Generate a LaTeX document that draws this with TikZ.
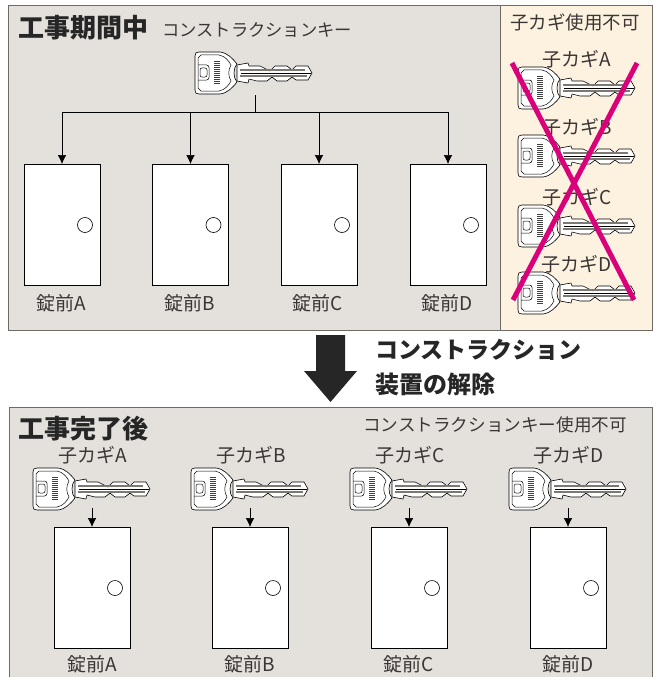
\documentclass[tikz,border=0pt]{standalone}
\usepackage{fontspec}
\setmainfont{Noto Sans CJK JP}
\definecolor{lkText}{HTML}{3A3635}
\definecolor{lkPanel}{HTML}{E4E0DC}
\definecolor{lkCream}{HTML}{FDF1DF}
\definecolor{lkEdge}{HTML}{6E6A64}
\definecolor{lkCross}{HTML}{D9007A}
\definecolor{lkGroove}{HTML}{7C7975}
\usetikzlibrary{calc,positioning,arrows.meta}
\tikzset{
  panelbox/.style={draw=lkEdge, line width=0.8pt},
  doorbox/.style={draw=black, fill=white, line width=0.6pt, minimum width=76pt, minimum height=121pt, inner sep=0pt, outer sep=0pt},
  knobmark/.style={draw=black, fill=white, line width=0.6pt, circle, minimum size=15pt, inner sep=0pt},
  lbl/.style={text=lkText, font=\fontsize{19}{21}\selectfont, inner sep=0pt},
  titlelbl/.style={text=black!85, font=\fontsize{26}{28}\selectfont\bfseries, inner sep=0pt, anchor=west},
  feedline/.style={draw=black, line width=0.6pt, -{Latex[length=9pt,width=8.5pt]}},
  crossline/.style={draw=lkCross, line width=5pt},
  keypic/.pic={
    \coordinate (-bot) at (60,22);
    \coordinate (-mid) at (58,0);
    % blade
    \draw[fill=white, line width=0.6pt, line join=round] (42,-8) -- (53,-10) -- (54,-7) -- (65,-7) -- (75,-2) -- (80,-7) -- (92,-7) -- (97,-3)
      -- (101,-7) -- (113,-7) -- (117,0) -- (113,7) -- (101,7) -- (97,4) -- (92,8) -- (82,8) -- (77,4) -- (72,8) -- (62,8) -- (54,6) -- (53,10) -- (42,8) -- cycle;
    \draw[lkGroove, line width=1.5pt] (45,-3) -- (110,-3);
    \draw[lkGroove, line width=1.5pt] (45,3) -- (112,3);
    \draw[line width=0.4pt] (46,0) -- (116,0);
    % bow
    \draw[fill=white, line width=0.6pt, line join=round] (4,-21) -- (25,-21) .. controls (33,-20) and (38,-14) .. (42,-9) .. controls (38,-5) and (38,5) .. (42,9)
      .. controls (38,14) and (33,20) .. (25,21) -- (4,21) .. controls (1,21) and (0,20) .. (0,17) -- (0,-17) .. controls (0,-20) and (1,-21) .. (4,-21) -- cycle;
    \draw[line width=0.5pt] (6,-18) -- (24,-18) .. controls (30,-17) and (34,-12) .. (36,-8) .. controls (33,-3) and (33,3) .. (36,8)
      .. controls (34,12) and (30,17) .. (24,18) -- (6,18) -- (3,15) -- (3,-15) -- cycle;
    % hole and maker mark
    \draw[line width=0.5pt, rounded corners=2.5pt] (3,-8) -- (14,-8) -- (14,7) -- (3,7);
    \draw[line width=0.5pt, rounded corners=2pt] (5,-5) rectangle (12,4);
    \fill[black!75] (19,-12) rectangle (25,11);
    \foreach \yy in {-10.5,-8.5,...,10} {\draw[white, line width=0.4pt] (19,\yy) -- (25,\yy);}
  }
}
\begin{document}
\begin{tikzpicture}[x=1pt, y=-1pt]
  \useasboundingbox (0,0) rectangle (659,677);
  \fill[white] (0,0) rectangle (659,677);

  % upper panel
  \path[panelbox, fill=lkPanel] (8.5,5.5) rectangle (500,330);
  \path[panelbox, fill=lkCream] (500,5.5) rectangle (652,330);
  \node[titlelbl] (titleUp) at (18,28) {工事期間中};
  \node[lbl, anchor=west, font=\fontsize{17.3}{19}\selectfont] (ckeyUp) at (162,30) {コンストラクションキー};
  \pic (keyT) at (195,73) {keypic};
  \coordinate (busT) at (255,112);
  \foreach \i/\x/\n in {1/62/A, 2/190.5/B, 3/319/C, 4/448/D} {
    \node[doorbox] (doorT\i) at (\x,224.5) {};
    \node[knobmark] (knobT\i) at (\x+23,225) {};
    \node[lbl] (lockT\i) at (\x-1,303) {錠前\n};
    \draw[feedline] (busT -| doorT\i) -- (doorT\i.north);
  }
  \draw[line width=0.6pt] (keyT-bot) -- (busT);
  \draw[line width=0.6pt] (busT -| doorT1) -- (busT -| doorT4);

  % sub keys, not usable
  \node[lbl, font=\fontsize{18.5}{20}\selectfont] (noSub) at (575,22) {子カギ使用不可};
  \foreach \i/\yy/\n in {1/88/A, 2/156/B, 3/226/C, 4/293/D} {
    \pic (keyN\i) at (518,\yy) {keypic};
    \node[lbl] (subN\i) at (577,\yy-29) {子カギ\n};
  }
  \coordinate (crossA) at (512,63);
  \coordinate (crossB) at (634,300);
  \coordinate (crossC) at (637,63);
  \coordinate (crossD) at (513,300);
  \draw[crossline] (crossA) -- (crossB);
  \draw[crossline] (crossC) -- (crossD);

  % release arrow
  \fill[black!85] (316,335) -- (345,335) -- (345,371) -- (357,371) -- (330.5,402) -- (304,371) -- (316,371) -- cycle;
  \node[anchor=west, text=black!85, inner sep=0pt, font=\fontsize{23}{25}\selectfont\bfseries] (relA) at (375,350) {コンストラクション};
  \node[anchor=west, text=black!85, inner sep=0pt, font=\fontsize{24}{26}\selectfont\bfseries] (relB) at (375,384) {装置の解除};

  % lower panel
  \path[panelbox, fill=lkPanel] (9,677.5) -- (9,407) -- (652,407) -- (652,677.5);
  \node[titlelbl] (titleLo) at (18,429) {工事完了後};
  \node[lbl, anchor=east, font=\fontsize{17.6}{19}\selectfont] (ckeyLo) at (627,425) {コンストラクションキー使用不可};
  \foreach \i/\x/\n in {1/33/A, 2/191/B, 3/350/C, 4/509/D} {
    \node[lbl] (subL\i) at (\x+60,455) {子カギ\n};
    \pic (keyL\i) at (\x,489) {keypic};
    \node[doorbox] (doorL\i) at (\x+59,587.5) {};
    \node[knobmark] (knobL\i) at (\x+82,588) {};
    \node[lbl] (lockL\i) at (\x+59,664) {錠前\n};
    \coordinate (feedL\i) at (\x+59,508);
    \draw[feedline] (feedL\i) -- (doorL\i.north);
  }
\end{tikzpicture}
\end{document}
